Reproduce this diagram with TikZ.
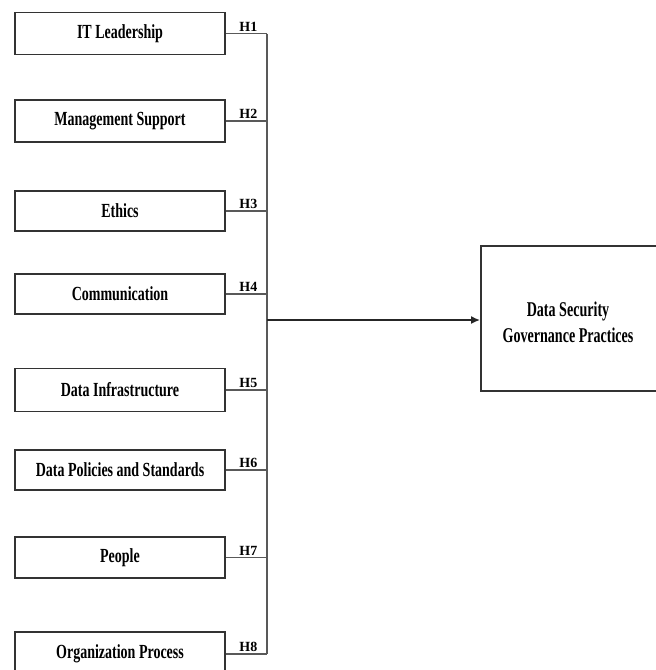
\documentclass[tikz,border=0pt]{standalone}
\usepackage{fontspec}
\setmainfont{Liberation Serif}[FakeStretch=0.70]
\newfontfamily\rfont{Liberation Serif}[FakeStretch=0.67]
\newfontfamily\hfont{Liberation Serif}
\usetikzlibrary{arrows.meta}
\begin{document}
\begin{tikzpicture}[x=1pt,y=-1pt,
  leftbox/.style={draw=black!80,line width=1.5pt,minimum width=210pt,minimum height=42pt,inner sep=0pt,
    font=\fontsize{20}{22}\selectfont\bfseries},
  bigbox/.style={draw=black!80,line width=1.5pt,minimum width=184pt,minimum height=145pt,inner sep=0pt,anchor=west},
  conn/.style={draw=black!65,line width=1.5pt},
  hlab/.style={font=\hfont\fontsize{14}{15}\selectfont\bfseries,inner sep=1.5pt,anchor=south},
  bigtext/.style={align=center,font=\rfont\fontsize{21}{26}\selectfont\bfseries,inner sep=0pt}]
\clip (0,0) rectangle (656,670);
\fill[white] (0,0) rectangle (656,670);
\node[leftbox] (b1) at (120,33.5) {IT Leadership};
\node[leftbox] (b2) at (120,121) {Management Support};
\node[leftbox,minimum height=40pt] (b3) at (120,211) {Ethics};
\node[leftbox,minimum height=40pt] (b4) at (120,294) {Communication};
\node[leftbox,minimum height=43pt] (b5) at (120,390) {Data Infrastructure};
\node[leftbox,minimum height=40pt] (b6) at (120,470) {Data Policies and Standards};
\node[leftbox,minimum height=41pt] (b7) at (120,557.5) {People};
\node[leftbox,minimum height=44pt] (b8) at (120,654) {Organization Process};
\node[bigbox] (dsgp) at (480,318.5) {};
\node[bigtext] (dsgptext) at (568,322) {Data Security\\Governance Practices};
\coordinate (top) at (267,33.5);
\coordinate (bot) at (267,654);
\coordinate (junc) at (267,320);
\draw[conn] (top) -- (bot);
\foreach \i in {1,...,8}{
  \draw[conn] (b\i.east) -- (b\i.east -| top) node[hlab,pos=0.55] {H\i};
}
\draw[conn,draw=black!85,-{Latex[length=9pt,width=8pt]}] (junc) -- (junc -| dsgp.west);
\end{tikzpicture}
\end{document}
